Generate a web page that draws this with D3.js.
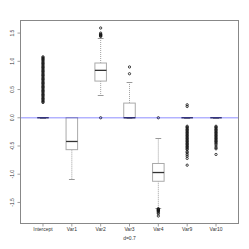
<!DOCTYPE html>
<meta charset="utf-8">
<style>
  body { margin: 0; background: #fff; }
  text { font-family: "Liberation Sans", Arial, sans-serif; fill: #333; }
</style>
<svg id="chart" width="249" height="249"></svg>
<script src="https://cdn.jsdelivr.net/npm/d3@7"></script>
<script>

// box statistics
var names = ["Intercept", "Var1", "Var2", "Var3", "Var4", "Var9", "Var10"];
var lowWhisker = [0, -1.08, 0.41, 0, -1.59, 0, 0];
var q1 = [0, -0.565, 0.65, 0, -1.125, 0, 0];
var med = [0, -0.42, 0.84, 0, -0.97, 0, 0];
var q3 = [0, 0, 0.97, 0.26, -0.81, 0, 0];
var highWhisker = [0, 0, 1.42, 0.635, -0.35, 0, 0];

// outliers, one list per box
var outIntercept = [0.27, 0.285, 0.3, 0.32, 0.335, 0.35, 0.37, 0.39, 0.405, 0.42, 0.44, 0.46, 0.475,
  0.49, 0.51, 0.53, 0.545, 0.56, 0.58, 0.6, 0.615, 0.63, 0.65, 0.67, 0.685, 0.7, 0.72, 0.74, 0.755,
  0.77, 0.79, 0.81, 0.825, 0.84, 0.86, 0.88, 0.895, 0.91, 0.93, 0.95, 0.965, 0.98, 1.0, 1.02, 1.035,
  1.05, 1.065, 1.08];
var outVar1 = [];
var outVar2 = [0.0, 1.44, 1.45, 1.46, 1.47, 1.48, 1.5, 1.59];
var outVar3 = [0.78, 0.9];
var outVar4 = [0.0, -1.61, -1.62, -1.63, -1.64, -1.65, -1.66, -1.68, -1.7, -1.74];
var outVar9 = [0.2, 0.23, -0.15, -0.165, -0.18, -0.2, -0.215, -0.23, -0.25, -0.265, -0.28, -0.3,
  -0.315, -0.33, -0.35, -0.365, -0.38, -0.4, -0.415, -0.43, -0.45, -0.465, -0.48, -0.5, -0.515,
  -0.53, -0.55, -0.565, -0.6, -0.62, -0.65, -0.68, -0.72, -0.84];
var outVar10 = [-0.15, -0.165, -0.18, -0.2, -0.215, -0.23, -0.25, -0.265, -0.28, -0.3, -0.315,
  -0.33, -0.35, -0.365, -0.38, -0.4, -0.415, -0.43, -0.45, -0.47, -0.5, -0.53, -0.55, -0.65];
var outliers = [outIntercept, outVar1, outVar2, outVar3, outVar4, outVar9, outVar10];

var yTicks = [-1.5, -1, -0.5, 0, 0.5, 1, 1.5];
var yTickLabels = ["-1.5", "-1.0", "-0.5", "0.0", "0.5", "1.0", "1.5"];
var subTitle = "d=0.7";

var svg = d3.select("#chart");
var pLeft = 20.5, pRight = 238.5, pTop = 20.5, pBottom = 223.5;

var x = d3.scaleLinear().domain([0.22, names.length + 0.78]).range([pLeft, pRight]);
var y = d3.scaleLinear().domain([-1.873, 1.723]).range([pBottom, pTop]);
var boxW = x(1.4) - x(1);
var capW = boxW / 2;

var boxes = names.map(function(n, i) {
  return {name: n, pos: i + 1, lo: lowWhisker[i], q1: q1[i], med: med[i], q3: q3[i], hi: highWhisker[i], out: outliers[i]};
});

var g = svg.append("g").selectAll("g")
  .data(boxes)
  .enter().append("g");

// whiskers (dotted)
g.append("line")
    .attr("x1", function(d) { return x(d.pos); })
    .attr("x2", function(d) { return x(d.pos); })
    .attr("y1", function(d) { return y(d.q3); })
    .attr("y2", function(d) { return y(d.hi); })
    .attr("stroke", "#888").attr("stroke-width", 0.8).attr("stroke-dasharray", "1,1");
g.append("line")
    .attr("x1", function(d) { return x(d.pos); })
    .attr("x2", function(d) { return x(d.pos); })
    .attr("y1", function(d) { return y(d.q1); })
    .attr("y2", function(d) { return y(d.lo); })
    .attr("stroke", "#888").attr("stroke-width", 0.8).attr("stroke-dasharray", "1,1");

// staples
["hi", "lo"].forEach(function(k) {
  g.append("line")
      .attr("x1", function(d) { return x(d.pos) - capW / 2; })
      .attr("x2", function(d) { return x(d.pos) + capW / 2; })
      .attr("y1", function(d) { return Math.round(y(d[k])) + 0.5; })
      .attr("y2", function(d) { return Math.round(y(d[k])) + 0.5; })
      .attr("stroke", "#999").attr("stroke-width", 1);
});

// boxes
g.append("rect")
    .attr("x", function(d) { return x(d.pos) - boxW / 2; })
    .attr("y", function(d) { return y(d.q3); })
    .attr("width", boxW)
    .attr("height", function(d) { return y(d.q1) - y(d.q3); })
    .attr("fill", "#fff")
    .attr("stroke", "#aaa").attr("stroke-width", 1);

// medians
g.append("line")
    .attr("x1", function(d) { return x(d.pos) - boxW / 2; })
    .attr("x2", function(d) { return x(d.pos) + boxW / 2; })
    .attr("y1", function(d) { return y(d.med); })
    .attr("y2", function(d) { return y(d.med); })
    .attr("stroke", "#333").attr("stroke-width", 1.3);

// outlier circles
g.selectAll("circle")
  .data(function(d) { return d.out.map(function(v) { return {pos: d.pos, v: v}; }); })
  .enter().append("circle")
    .attr("cx", function(d) { return x(d.pos); })
    .attr("cy", function(d) { return y(d.v); })
    .attr("r", 1.15)
    .attr("fill", "none")
    .attr("stroke", "#111").attr("stroke-width", 0.8);

// reference line at zero
svg.append("line")
    .attr("x1", pLeft).attr("x2", pRight)
    .attr("y1", y(0)).attr("y2", y(0))
    .attr("stroke", "blue").attr("stroke-opacity", 0.3).attr("stroke-width", 1.3);

// frame
svg.append("rect")
    .attr("x", pLeft).attr("y", pTop)
    .attr("width", pRight - pLeft).attr("height", pBottom - pTop)
    .attr("fill", "none").attr("stroke", "#888").attr("stroke-width", 1);

// y axis
var ya = svg.append("g");
ya.selectAll("line")
  .data(yTicks)
  .enter().append("line")
    .attr("x1", pLeft - 3).attr("x2", pLeft)
    .attr("y1", function(d) { return y(d); })
    .attr("y2", function(d) { return y(d); })
    .attr("stroke", "#888").attr("stroke-width", 0.8);
ya.selectAll("text")
  .data(yTicks)
  .enter().append("text")
    .attr("transform", function(d) { return "translate(13.5," + y(d) + ") rotate(-90)"; })
    .attr("text-anchor", "middle")
    .attr("font-size", 5)
    .text(function(d, i) { return yTickLabels[i]; });

// x axis
var xa = svg.append("g");
xa.selectAll("line")
  .data(boxes)
  .enter().append("line")
    .attr("x1", function(d) { return x(d.pos); })
    .attr("x2", function(d) { return x(d.pos); })
    .attr("y1", pBottom).attr("y2", pBottom + 3)
    .attr("stroke", "#888").attr("stroke-width", 0.8);
xa.selectAll("text")
  .data(boxes)
  .enter().append("text")
    .attr("x", function(d) { return x(d.pos); })
    .attr("y", 231)
    .attr("text-anchor", "middle")
    .attr("font-size", 5)
    .text(function(d) { return d.name; });

svg.append("text")
    .attr("x", (pLeft + pRight) / 2)
    .attr("y", 240)
    .attr("text-anchor", "middle")
    .attr("font-size", 5)
    .text(subTitle);

</script>
